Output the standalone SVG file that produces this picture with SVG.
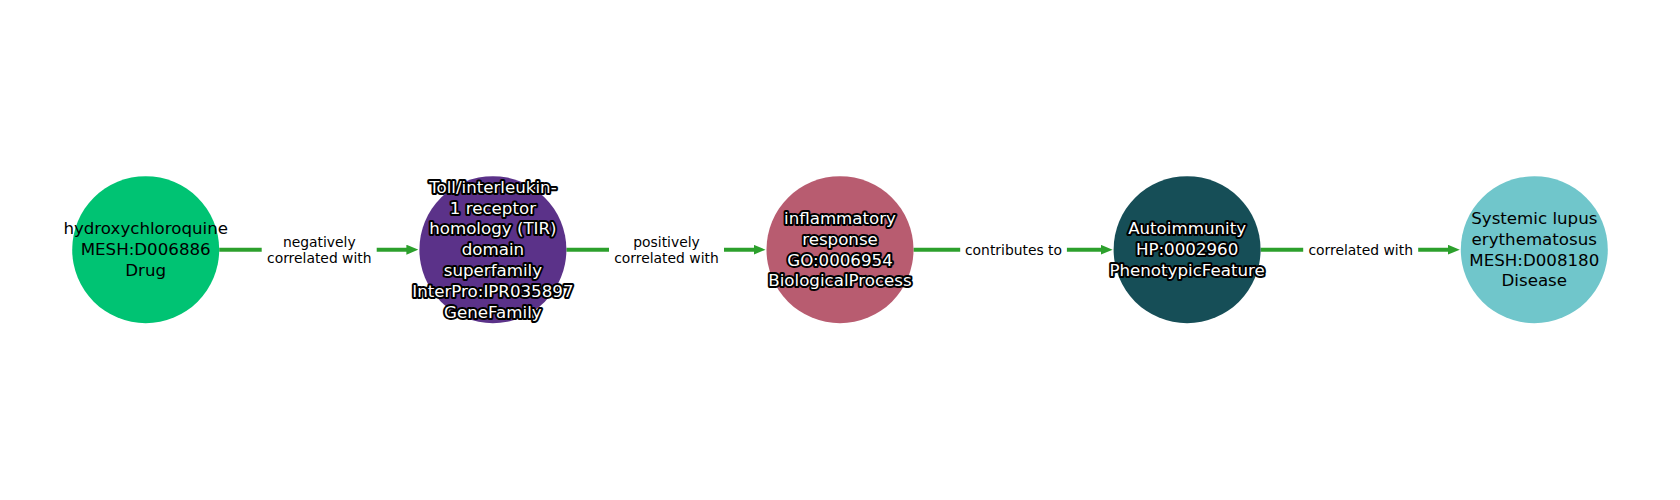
<svg xmlns="http://www.w3.org/2000/svg" width="1680" height="500" viewBox="0 0 1680 500">
<defs>
<style>
.nl{font-family:"DejaVu Sans",sans-serif;font-size:16.67px;text-anchor:middle;dominant-baseline:central}
.dark{fill:#000}
.halo{fill:#fff;stroke:#000;stroke-width:4;stroke-linejoin:round;paint-order:stroke}
.el{font-family:"DejaVu Sans",sans-serif;font-size:13.89px;text-anchor:middle;dominant-baseline:central;fill:#000}
.edge{stroke:#2ca02c;stroke-width:4;fill:none;marker-end:url(#arr)}
.lbg{fill:#fff}
</style>
<marker id="arr" markerUnits="userSpaceOnUse" markerWidth="12" markerHeight="10" refX="2" refY="5" orient="auto" viewBox="0 0 12 10">
<path d="M0,0 L12,5 L0,10 z" fill="#2ca02c"/>
</marker>
</defs>
<rect width="1680" height="500" fill="#fff"/>
<g id="edges">
<line class="edge" x1="219.2" y1="249.7" x2="408.4" y2="249.7"/>
<line class="edge" x1="566.4" y1="249.7" x2="755.5" y2="249.7"/>
<line class="edge" x1="913.5" y1="249.7" x2="1102.6" y2="249.7"/>
<line class="edge" x1="1260.6" y1="249.7" x2="1449.8" y2="249.7"/>
<rect class="lbg" x="261.7" y="230" width="115" height="39"/>
<text class="el" x="319.3" y="241.7">negatively</text>
<text class="el" x="319.3" y="257.7">correlated with</text>
<rect class="lbg" x="609" y="230" width="115" height="39"/>
<text class="el" x="666.5" y="241.7">positively</text>
<text class="el" x="666.5" y="257.7">correlated with</text>
<rect class="lbg" x="960.2" y="238" width="106.7" height="23"/>
<text class="el" x="1013.5" y="249.7">contributes to</text>
<rect class="lbg" x="1303.2" y="238" width="115" height="23"/>
<text class="el" x="1360.7" y="249.7">correlated with</text>
</g>
<g id="node1">
<circle cx="145.7" cy="249.7" r="73.5" fill="#00c373"/>
<text class="nl dark" x="145.7" y="228.9">hydroxychloroquine</text>
<text class="nl dark" x="145.7" y="249.7">MESH:D006886</text>
<text class="nl dark" x="145.7" y="270.5">Drug</text>
</g>
<g id="node2">
<circle cx="492.9" cy="249.7" r="73.5" fill="#5b3289"/>
<text class="nl halo" x="492.9" y="187.3">Toll/interleukin-</text>
<text class="nl halo" x="492.9" y="208.1">1 receptor</text>
<text class="nl halo" x="492.9" y="228.9">homology (TIR)</text>
<text class="nl halo" x="492.9" y="249.7">domain</text>
<text class="nl halo" x="492.9" y="270.5">superfamily</text>
<text class="nl halo" x="492.9" y="291.3">InterPro:IPR035897</text>
<text class="nl halo" x="492.9" y="312.1">GeneFamily</text>
</g>
<g id="node3">
<circle cx="840" cy="249.7" r="73.5" fill="#b85c70"/>
<text class="nl halo" x="840" y="218.5">inflammatory</text>
<text class="nl halo" x="840" y="239.3">response</text>
<text class="nl halo" x="840" y="260.1">GO:0006954</text>
<text class="nl halo" x="840" y="280.9">BiologicalProcess</text>
</g>
<g id="node4">
<circle cx="1187.1" cy="249.7" r="73.5" fill="#164e57"/>
<text class="nl halo" x="1187.1" y="228.9">Autoimmunity</text>
<text class="nl halo" x="1187.1" y="249.7">HP:0002960</text>
<text class="nl halo" x="1187.1" y="270.5">PhenotypicFeature</text>
</g>
<g id="node5">
<circle cx="1534.3" cy="249.7" r="73.5" fill="#70c6cb"/>
<text class="nl dark" x="1534.3" y="218.5">Systemic lupus</text>
<text class="nl dark" x="1534.3" y="239.3">erythematosus</text>
<text class="nl dark" x="1534.3" y="260.1">MESH:D008180</text>
<text class="nl dark" x="1534.3" y="280.9">Disease</text>
</g>
</svg>
